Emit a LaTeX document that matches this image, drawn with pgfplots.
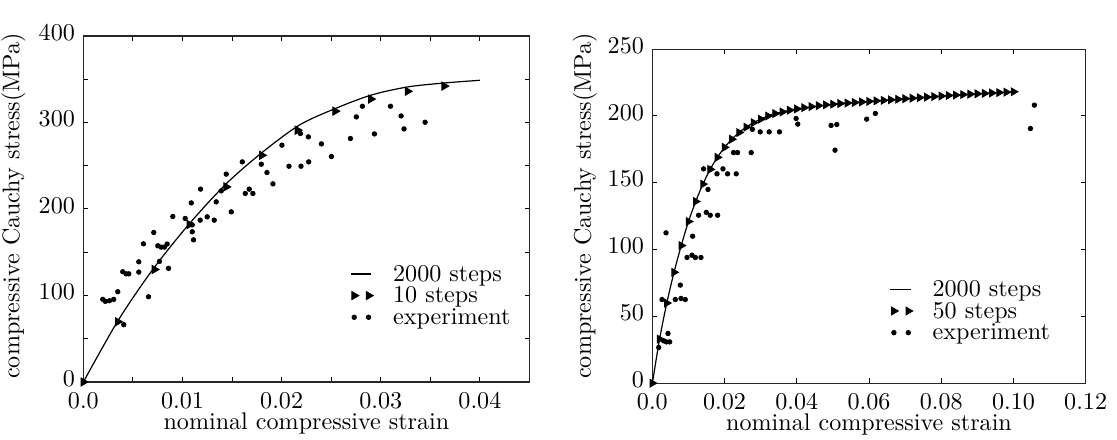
\documentclass[border=0pt]{standalone}
\usepackage{pgfplots}
\pgfplotsset{compat=1.18}
\pgfplotsset{
  myax/.style={
    scale only axis,
    tick align=inside,
    major tick length=2pt,
    minor tick length=2pt,
    every tick/.style={black, line width=0.4pt},
    axis line style={black!85, line width=0.5pt},
    scaled x ticks=false,
    scaled y ticks=false,
    xlabel={nominal compressive strain},
    ylabel={compressive Cauchy stress(MPa)},
    xlabel style={at={(axis description cs:0.5,0)}, anchor=center, inner sep=0pt, yshift=-17.3pt},
    yticklabel style={yshift=1.5pt},
    xticklabel style={inner ysep=1pt, yshift=-3.1pt},
    legend cell align=left,
    legend style={draw=none, fill=none, inner sep=0pt, anchor=north west,
      row sep=0pt,
      nodes={inner xsep=1pt, inner ysep=0.5pt, text height=7pt, text depth=1pt},
      /tikz/every odd column/.append style={column sep=7.3pt}},
  },
  linelegend/.style={legend image code/.code={\draw[##1] (0cm,0cm) -- (0.3cm,0cm);}},
  marklegend/.style={legend image code/.code={\draw[##1] plot coordinates {(0.05cm,0cm) (0.26cm,0cm)};}},
}
\begin{document}
\begin{tikzpicture}
\path[use as bounding box] (-34.6pt,-23.7pt) rectangle (428.9pt,158.5pt);
% ---------------- left ----------------
\begin{axis}[myax,
  at={(0pt,0pt)}, anchor=south west,
  width=185.1pt, height=143.6pt,
  xmin=0, xmax=0.045, ymin=0, ymax=400,
  xtick={0,0.01,0.02,0.03,0.04},
  xticklabels={0.0,0.01,0.02,0.03,0.04},
  minor xtick={0.005,0.015,0.025,0.035},
  ytick={0,100,200,300,400},
  minor ytick={50,150,250,350},
  ylabel style={at={(axis description cs:-0.157,0.509)}, anchor=center},
  legend style={at={(axis description cs:0.597,0.345)}},
]
\addplot[black, line width=0.5pt, smooth, linelegend] coordinates {
(0,0) (0.0035,71) (0.007,130) (0.0107,183) (0.0144,229) (0.018,265)
(0.0218,297) (0.0254,316) (0.029,331.5) (0.0327,341) (0.0364,345.6) (0.04,348.7)};
\addlegendentry{2000 steps}
\addplot[black, only marks, mark=triangle*, mark size=1.9pt, mark options={rotate=-90}, marklegend] coordinates {
(0,0) (0.00347,69.6) (0.00717,130) (0.0107,182) (0.0144,225.5) (0.018,262)
(0.0216,291) (0.0254,313) (0.029,327) (0.0327,336) (0.0364,342)};
\addlegendentry{10 steps}
\addplot[black, only marks, mark=*, mark size=0.9pt, marklegend] coordinates {
(0.00195,95.5) (0.00222,93.2) (0.00263,93.9) (0.00306,95.5) (0.00347,104.3)
(0.00397,127.4) (0.00431,125) (0.00458,125) (0.00407,66.2) (0.00559,138.9)
(0.00559,127) (0.00606,159.7) (0.00657,98.5) (0.0071,172.8) (0.00751,157.4)
(0.00785,155.9) (0.00818,155.9) (0.00845,159.4) (0.00768,139.4) (0.00859,131.3)
(0.00902,191.3) (0.01027,189) (0.01088,207) (0.01098,181.6) (0.01098,173.6)
(0.01111,164.3) (0.01178,187) (0.01249,190.9) (0.0132,187) (0.0134,208.2)
(0.01492,196.7) (0.01182,222.9) (0.01391,220.9) (0.01441,240.2) (0.01603,254.4)
(0.01633,217.9) (0.01673,222.9) (0.0171,217.9) (0.01795,251.7) (0.01852,242.1)
(0.01912,229) (0.02003,273.7) (0.02074,249.4) (0.02195,249.4) (0.02273,254.4)
(0.02189,287.2) (0.0227,283.3) (0.02401,275.2) (0.02502,260.6) (0.02694,281.4)
(0.02754,306.4) (0.02815,318.7) (0.02936,286.7) (0.03098,318.7) (0.03205,307.5)
(0.03235,292.5) (0.03447,300.2)};
\addlegendentry{experiment}
\end{axis}
% ---------------- right ----------------
\begin{axis}[myax,
  at={(236.1pt,-0.5pt)}, anchor=south west,
  width=179.8pt, height=138.6pt,
  xmin=0, xmax=0.12, ymin=0, ymax=250,
  xtick={0,0.02,0.04,0.06,0.08,0.10,0.12},
  xticklabels={0.0,0.02,0.04,0.06,0.08,0.10,0.12},
  ytick={0,50,100,150,200,250},
  ylabel style={at={(axis description cs:-0.156,0.531)}, anchor=center},
  legend style={at={(axis description cs:0.547,0.315)}},
]
\addplot[black, line width=0.5pt, smooth, linelegend] coordinates {
(0,0) (0.002,33) (0.004,60) (0.006,83) (0.008,103) (0.010,121) (0.012,136)
(0.014,149) (0.016,160) (0.018,169) (0.020,176.5) (0.022,182.6) (0.024,187.6)
(0.026,191.6) (0.028,195) (0.030,197.6) (0.032,200) (0.034,201.8) (0.036,203)
(0.038,204.3) (0.040,205.3) (0.050,208.8) (0.060,210.9) (0.070,212.9)
(0.080,214.9) (0.090,216.6) (0.100,218.1)};
\addlegendentry{2000 steps}
\addplot[black, only marks, mark=triangle*, mark size=1.8pt, mark options={rotate=-90}, marklegend] coordinates {
(0,0) (0.002,33) (0.004,60) (0.006,83) (0.008,103) (0.010,121) (0.012,136)
(0.014,149) (0.016,160) (0.018,169) (0.020,176.5) (0.022,182.6) (0.024,187.6)
(0.026,191.6) (0.028,195) (0.030,197.6) (0.032,200) (0.034,201.8) (0.036,203)
(0.038,204.3) (0.040,205.3) (0.042,206.2) (0.044,207) (0.046,207.7) (0.048,208.3)
(0.050,208.8) (0.052,209.3) (0.054,209.7) (0.056,210.1) (0.058,210.5) (0.060,210.9)
(0.062,211.3) (0.064,211.7) (0.066,212.1) (0.068,212.5) (0.070,212.9) (0.072,213.3)
(0.074,213.7) (0.076,214.1) (0.078,214.5) (0.080,214.9) (0.082,215.3) (0.084,215.6)
(0.086,216) (0.088,216.3) (0.090,216.6) (0.092,216.9) (0.094,217.2) (0.096,217.5)
(0.098,217.8) (0.100,218.1)};
\addlegendentry{50 steps}
\addplot[black, only marks, mark=*, mark size=0.9pt, marklegend] coordinates {
(0.00175,26.7) (0.00267,62.6) (0.00313,31.7) (0.00387,30.9) (0.00479,30.9)
(0.00433,37.2) (0.00636,62.6) (0.00774,73.4) (0.00793,63.4) (0.00912,62.6)
(0.0096,94.1) (0.01097,95.8) (0.01189,94.1) (0.01346,94.1) (0.00378,112.5)
(0.01115,110) (0.0128,125.7) (0.01493,127.8) (0.01603,125.7) (0.01806,125.7)
(0.0154,145) (0.01419,160.4) (0.01603,160.4) (0.0179,156.7) (0.01955,160.4)
(0.02082,156.7) (0.02322,156.7) (0.02248,172.6) (0.02359,172.6) (0.02737,172.6)
(0.0277,190) (0.02986,188.1) (0.03235,188.1) (0.0352,188.1) (0.03981,198.1)
(0.04027,193.9) (0.04949,192.9) (0.05107,193.6) (0.05059,174.4) (0.05935,197.6)
(0.06175,201.9) (0.1047,190.6) (0.1058,208.1)};
\addlegendentry{experiment}
\end{axis}
\end{tikzpicture}
\end{document}
